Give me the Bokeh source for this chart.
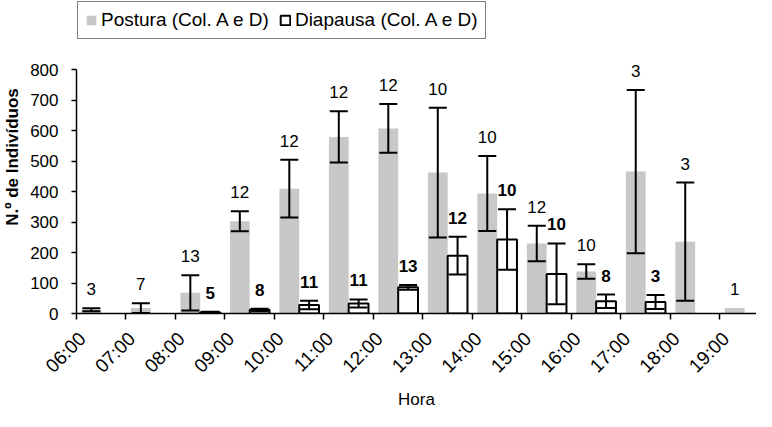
import math
from bokeh.plotting import figure
from bokeh.models import (Range1d, FixedTicker, Whisker, ColumnDataSource, Legend,
                          LegendItem, TeeHead, LabelSet)
from bokeh.core.properties import value
from bokeh.embed import file_html
from bokeh.resources import INLINE

# ---------------- data ----------------
hours = ["06:00", "07:00", "08:00", "09:00", "10:00", "11:00", "12:00",
         "13:00", "14:00", "15:00", "16:00", "17:00", "18:00", "19:00"]
postura = [12, 18, 68, 303, 410, 580, 608, 463, 394, 230, 138, 466, 236, 18]
postura_err = [5, 16, 58, 33, 95, 84, 80, 213, 123, 58, 24, 268, 194, None]
postura_n = [3, 7, 13, 12, 12, 12, 12, 10, 10, 12, 10, 3, 3, 1]
diapausa = [None, None, 4, 12, 28, 33, 86, 190, 243, 130, 40, 38, None, None]
diapausa_err = [None, None, 2, 4, 14, 13, 8, 62, 99, 100, 22, 23, None, None]
diapausa_n = [None, None, 5, 8, 11, 11, 13, 12, 10, 10, 8, 3, None, None]
y_ticks = [0, 100, 200, 300, 400, 500, 600, 700, 800]

FONT = "Liberation Sans"
GRAY = "#c8c8c8"

# ---------------- figure ----------------
# frame reaches the top of the canvas so that the legend and the highest
# labels are not clipped; the y axis line itself stops at 800
p = figure(width=756, height=411, output_backend="svg", toolbar_location=None,
           x_range=Range1d(0, 13.74), y_range=Range1d(0, 1028),
           min_border_left=73, min_border_top=0, min_border_bottom=94,
           min_border_right=0, background_fill_color="white",
           border_fill_color="white", outline_line_color=None)
p.xgrid.visible = False
p.ygrid.visible = False

# positions of bar groups
xg = [i + 0.3 for i in range(len(hours))]
xw = [i + 0.7 for i in range(len(hours))]

# Postura bars
src_p = ColumnDataSource(dict(x=xg, top=postura))
r_p = p.vbar(x="x", top="top", bottom=0, width=0.4, source=src_p,
             fill_color=GRAY, line_color=None)

# Diapausa bars
idx_d = [i for i, v in enumerate(diapausa) if v is not None]
src_d = ColumnDataSource(dict(x=[xw[i] for i in idx_d], top=[diapausa[i] for i in idx_d]))
r_d = p.vbar(x="x", top="top", bottom=0, width=0.4, source=src_d,
             fill_color="white", line_color="black", line_width=2)

# Error bars
def whisk(xs, vals, errs):
    idx = [i for i, e in enumerate(errs) if e is not None]
    s = ColumnDataSource(dict(x=[xs[i] for i in idx],
                              upper=[vals[i] + errs[i] for i in idx],
                              lower=[vals[i] - errs[i] for i in idx]))
    w = Whisker(source=s, base="x", upper="upper", lower="lower",
                dimension="height", line_color="black", line_width=2,
                level="overlay",
                upper_head=TeeHead(size=18, line_color="black", line_width=2),
                lower_head=TeeHead(size=18, line_color="black", line_width=2))
    p.add_layout(w)

whisk(xg, postura, postura_err)
whisk(xw, diapausa, diapausa_err)

# n labels
def labels(xs, vals, errs, ns, style):
    idx = [i for i, n in enumerate(ns) if n is not None]
    s = ColumnDataSource(dict(
        x=[xs[i] for i in idx],
        y=[vals[i] + (errs[i] or 0) for i in idx],
        t=[str(ns[i]) for i in idx]))
    ls = LabelSet(x="x", y="y", text="t", source=s, text_align="center",
                  text_baseline="middle", y_offset=19, text_color="black",
                  text_font=value(FONT), text_font_size="17px",
                  text_font_style=style, level="overlay")
    p.add_layout(ls)

labels(xg, postura, postura_err, postura_n, "normal")
labels(xw, diapausa, diapausa_err, diapausa_n, "bold")

# ---------------- axes ----------------
xa = p.xaxis[0]
xa.ticker = FixedTicker(ticks=[i + 0.12 for i in range(len(hours))],
                        minor_ticks=list(range(len(hours) + 1)))
xa.major_label_overrides = {i + 0.12: h for i, h in enumerate(hours)}
xa.major_label_orientation = math.pi / 4
xa.major_tick_line_color = None
xa.major_tick_out = 0
xa.major_tick_in = 0
xa.minor_tick_out = 6
xa.minor_tick_in = 0
xa.minor_tick_line_color = "black"
xa.minor_tick_line_width = 1.5
xa.axis_line_color = "black"
xa.axis_line_width = 1.5
xa.major_label_text_font = FONT
xa.major_label_text_font_size = "19px"
xa.major_label_text_color = "black"
xa.major_label_standoff = 16
xa.axis_label = "Hora"
xa.axis_label_text_font = FONT
xa.axis_label_text_font_size = "17px"
xa.axis_label_text_font_style = "normal"
xa.axis_label_text_color = "black"
xa.axis_label_standoff = 3

ya = p.yaxis[0]
ya.ticker = FixedTicker(ticks=y_ticks, minor_ticks=[])
ya.bounds = (0, 800)
ya.major_tick_out = 5
ya.major_tick_in = 0
ya.major_tick_line_width = 1.5
ya.minor_tick_line_color = None
ya.axis_line_color = "black"
ya.axis_line_width = 1.5
ya.major_label_text_font = FONT
ya.major_label_text_font_size = "17px"
ya.major_label_text_color = "black"
ya.major_label_standoff = 13
ya.axis_label = "N.º de Indivíduos"
ya.axis_label_text_font = FONT
ya.axis_label_text_font_size = "17px"
ya.axis_label_text_font_style = "bold"
ya.axis_label_text_color = "black"
ya.axis_label_standoff = 5

# ---------------- legend ----------------
legend = Legend(items=[LegendItem(label="Postura (Col. A e D)", renderers=[r_p]),
                       LegendItem(label="Diapausa (Col. A e D)", renderers=[r_d])],
                orientation="horizontal", location="top_left",
                glyph_width=12, glyph_height=12, label_standoff=4, spacing=10,
                padding=7, margin=1, label_height=18,
                label_text_font=FONT, label_text_font_size="19px",
                label_text_color="black",
                border_line_color="black", border_line_width=1.5,
                background_fill_color="white", background_fill_alpha=1.0)
p.add_layout(legend, "center")

open("out.html", "w").write(file_html(p, INLINE))
